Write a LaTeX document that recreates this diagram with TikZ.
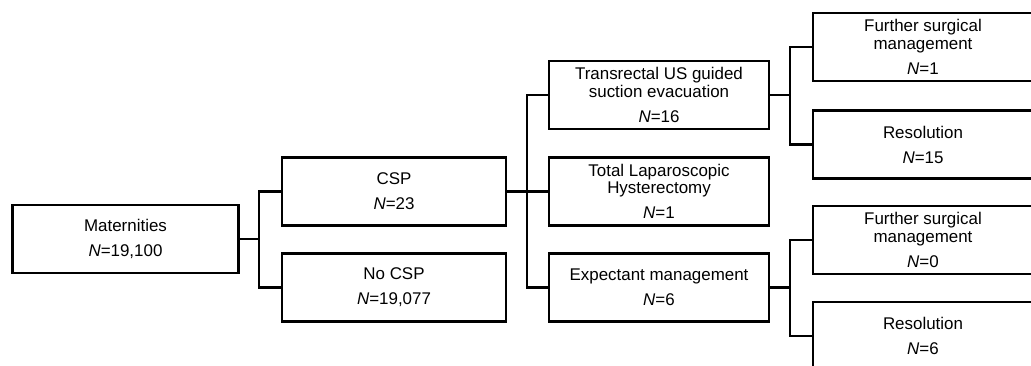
\documentclass[tikz,border=0pt]{standalone}
\usepackage{fontspec}
\setmainfont{Liberation Sans}
\newcommand{\Nval}[1]{\\[5.6pt]\textit{N}=#1}

\begin{document}
\begin{tikzpicture}[x=0.75pt,y=-0.75pt,
  box/.style={draw,line width=1.9pt,rectangle,inner sep=0pt,outer sep=0pt,align=center,
    minimum height=51pt,font=\fontsize{12.7}{13.1}\selectfont},
  link/.style={line width=1.9pt}]
  \useasboundingbox (0,0) rectangle (1031,365);
  \clip (0,0) rectangle (1031,365);
  % boxes
  \node[box,minimum width=169.5pt] (mat) at (125.5,239) {Maternities\Nval{19,100}};
  \node[box,minimum width=168pt] (csp) at (394,191.5) {CSP\Nval{23}};
  \node[box,minimum width=168pt] (nocsp) at (394,287.5) {No CSP\Nval{19,077}};
  \node[box,minimum width=165pt] (trans) at (659,95) {Transrectal US guided\\suction evacuation\Nval{16}};
  \node[box,minimum width=165pt] (tlh) at (659,191.5) {Total Laparoscopic\\Hysterectomy\Nval{1}};
  \node[box,minimum width=165pt] (expm) at (659,287.5) {Expectant management\Nval{6}};
  \node[box,minimum width=165pt] (fsm1) at (923,47) {Further surgical\\management\Nval{1}};
  \node[box,minimum width=165pt] (res1) at (923,144.5) {Resolution\Nval{15}};
  \node[box,minimum width=165pt] (fsm2) at (923,240) {Further surgical\\management\Nval{0}};
  \node[box,minimum width=165pt] (res2) at (923,336) {Resolution\Nval{6}};
  % junctions
  \coordinate (j1) at (259,239);
  \coordinate (j2) at (527,191.5);
  \coordinate (j3) at (790,95);
  \coordinate (j4) at (790,287.5);
  % connectors
  \draw[link] (mat.east) -- (j1);
  \draw[link] (csp.west) -| (j1) |- (nocsp.west);
  \draw[link] (csp.east) -- (tlh.west);
  \draw[link] (trans.west) -| (j2) |- (expm.west);
  \draw[link] (trans.east) -- (j3);
  \draw[link] (fsm1.west) -| (j3) |- (res1.west);
  \draw[link] (expm.east) -- (j4);
  \draw[link] (fsm2.west) -| (j4) |- (res2.west);
\end{tikzpicture}
\end{document}
